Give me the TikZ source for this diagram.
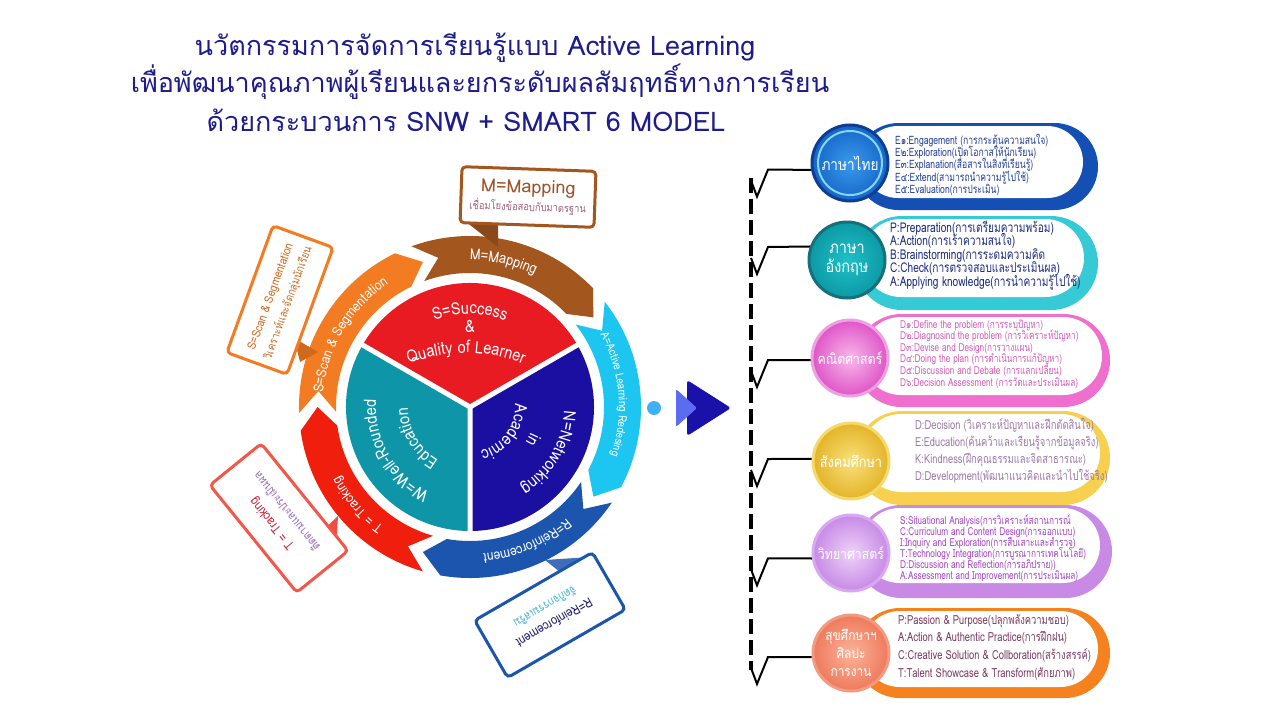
\documentclass[tikz,border=0pt]{standalone}
\usepackage{fontspec}
\setmainfont[Script=Thai,FakeStretch=0.85]{Loma}
\newfontfamily\tfont[Script=Thai]{Loma}
\newfontfamily\pfont[Script=Thai,FakeStretch=0.75]{Loma}
\usetikzlibrary{decorations.text}
\definecolor{titleblue}{HTML}{1E1B8C}
\definecolor{mbrown}{HTML}{A4561F}
\definecolor{acyan}{HTML}{1DC6F0}
\definecolor{rblue}{HTML}{1C55AE}
\definecolor{tred}{HTML}{F01E0C}
\definecolor{sorange}{HTML}{F37B22}
\definecolor{secred}{HTML}{E81A22}
\definecolor{secteal}{HTML}{0E96A8}
\definecolor{secblue}{HTML}{1A0FA0}
\definecolor{mtxt}{HTML}{9A5428}
\definecolor{mthai}{HTML}{A0607A}
\definecolor{stxt}{HTML}{D2691E}
\definecolor{ttxt}{HTML}{C8243A}
\definecolor{tthai}{HTML}{9A6AB8}
\definecolor{rtxt}{HTML}{1A1A6A}
\definecolor{rthai}{HTML}{3FB2D2}
\definecolor{pa}{HTML}{1450B4}
\definecolor{pb}{HTML}{36C9D6}
\definecolor{pc}{HTML}{EF6FCF}
\definecolor{pd}{HTML}{F6D04E}
\definecolor{pe}{HTML}{C98AE6}
\definecolor{pf}{HTML}{F5821F}
\definecolor{ta}{HTML}{23409A}
\definecolor{tb}{HTML}{1B2A80}
\definecolor{tc}{HTML}{D35DB8}
\definecolor{td}{HTML}{9C7AA8}
\definecolor{te}{HTML}{A545C5}
\definecolor{tf}{HTML}{7A3A60}
\definecolor{dotblue}{HTML}{3FB0F5}
\definecolor{darktri}{HTML}{1A12A8}
\definecolor{lighttri}{HTML}{5B6CF0}
\definecolor{aRim}{HTML}{0D3E96}
\definecolor{aIn}{HTML}{3A9BEC}
\definecolor{aOut}{HTML}{1565C8}
\definecolor{aHi}{HTML}{86D6F7}
\definecolor{bRim}{HTML}{14707A}
\definecolor{bIn}{HTML}{1FC0C8}
\definecolor{bOut}{HTML}{0C9AA5}
\definecolor{cRim}{HTML}{EFA0E0}
\definecolor{cIn}{HTML}{F8B8EA}
\definecolor{cOut}{HTML}{DF55C8}
\definecolor{dRim}{HTML}{F5D96B}
\definecolor{dIn}{HTML}{F9E07A}
\definecolor{dOut}{HTML}{E3B429}
\definecolor{eRim}{HTML}{D9A8F0}
\definecolor{eIn}{HTML}{EED2F8}
\definecolor{eOut}{HTML}{C78AE6}
\definecolor{fRim}{HTML}{F49A80}
\definecolor{fIn}{HTML}{FBB39A}
\definecolor{fOut}{HTML}{EE7A5C}
\newcommand\WBand[3]{\fill[#1] (#2:171) arc[start angle=#2,end angle=#3,radius=171] -- ({#3-8}:152.5) -- (#3:134) arc[start angle=#3,end angle=#2,radius=134] -- ({#2-8}:152.5) -- cycle;}
\newcommand\WArcText[7]{\path[decorate,decoration={text along path,text align=center,text color=#1,text={|#2|#7}}] ([shift={(#3)}]#5:#4) arc[start angle=#5,end angle=#6,radius=#4];}
\newcommand\Panel[6]{%
  \pgfmathsetmacro\ra{(#4-#2)/2}%
  \pgfmathsetmacro\rb{(#3-#2-3)/2}%
  \fill[#1,rounded corners=\ra pt] (855,#2) rectangle (#6,#4);
  \fill[white,rounded corners=\rb pt] (862,#2+3) rectangle (#5,#3);}
\newcommand\PLines[6]{\foreach \tx [count=\ii] in {#6} {\node[ptext,#5,anchor=base west] (#1\ii) at (#2,{#3+(\ii-1)*#4}) {\tx};}}
\begin{document}
\begin{tikzpicture}[x=1pt,y=-1pt,
  cbox/.style={rectangle,rounded corners=4,fill=white,line width=3,inner sep=0},
  ptext/.style={inner sep=0},
  pcirc/.style={circle,minimum size=76,inner sep=0,line width=3,text=white,align=center},
  conn/.style={line width=2,black},
  ttl/.style={text=titleblue,font=\tfont\fontsize{27}{30}\selectfont,anchor=base,inner sep=0}]
\useasboundingbox (0,0) rectangle (1280,720);
\fill[white] (0,0) rectangle (1280,720);
% title
\node[ttl] (t1) at (475,55) {นวัตกรรมการจัดการเรียนรู้แบบ Active Learning};
\node[ttl] (t2) at (480,92) {เพื่อพัฒนาคุณภาพผู้เรียนและยกระดับผลสัมฤทธิ์ทางการเรียน};
\node[ttl] (t3) at (466,131) {ด้วยกระบวนการ SNW + SMART 6 MODEL};
% wheel
\begin{scope}[shift={(470,407)},y=1pt]
  \fill[secred] (0,0) -- (30:124) arc[start angle=30,end angle=150,radius=124] -- cycle;
  \fill[secteal] (0,0) -- (150:124) arc[start angle=150,end angle=270,radius=124] -- cycle;
  \fill[secblue] (0,0) -- (270:124) arc[start angle=270,end angle=390,radius=124] -- cycle;
  \draw[white,line width=5] (0,0) -- (30:126) (0,0) -- (150:126) (0,0) -- (270:126);
  \WBand{mbrown}{110}{44}
  \WBand{acyan}{38}{-28}
  \WBand{rblue}{-34}{-100}
  \WBand{tred}{-106}{-172}
  \WBand{sorange}{182}{116}
  \WArcText{white}{\fontsize{15}{15}\selectfont}{0,0}{147}{127}{27}{M=Mapping}
  \WArcText{white}{\fontsize{11.5}{12}\selectfont}{0,0}{149}{55}{-45}{A=Active Learning Redesing}
  \WArcText{white}{\fontsize{14}{14}\selectfont}{0,0}{147.5}{-17}{-117}{R=Reinforcement}
  \WArcText{white}{\fontsize{14}{14}\selectfont}{0,0}{147.5}{-89}{-189}{T = Tracking}
  \WArcText{white}{\fontsize{14}{14}\selectfont}{0,0}{147.5}{199}{99}{S=Scan {\&} Segmentation}
  \WArcText{white}{\fontsize{17}{17}\selectfont}{0,0}{93}{140}{40}{S=Success}
  \node[text=white,font=\fontsize{17}{17}\selectfont,inner sep=0] (amp) at (0,81) {\&};
  \WArcText{white}{\fontsize{17}{17}\selectfont}{-4,-100}{154}{120}{60}{Quality of Learner}
  \WArcText{white}{\fontsize{17}{17}\selectfont}{0,0}{94}{260}{160}{W=Well-Rounded}
  \WArcText{white}{\fontsize{17}{17}\selectfont}{0,0}{62}{260}{160}{Education}
  \WArcText{white}{\fontsize{17}{17}\selectfont}{0,0}{94}{20}{-80}{N=Networking}
  \WArcText{white}{\fontsize{17}{17}\selectfont}{0,0}{66}{22}{-78}{in}
  \WArcText{white}{\fontsize{17}{17}\selectfont}{0,0}{45}{14}{-86}{Academic}
\end{scope}
% callouts
\fill[mbrown!85!black] (465,221) -- (498,224) -- (498,247) -- cycle;
\node[cbox,draw=mbrown,rotate=-2,minimum width=134,minimum height=56] (mbox) at (528,197) {};
\node[rotate=-2,align=center,inner sep=0] (mtext) at (mbox.center) {{\color{mtxt}\tfont\fontsize{18}{20}\selectfont M=Mapping}\\[2pt]{\color{mthai}\fontsize{11}{13}\selectfont เชื่อมโยงข้อสอบกับมาตรฐาน}};
\fill[sorange!85!black] (294,338) -- (300,362) -- (318,352) -- cycle;
\node[cbox,draw=sorange,rotate=70,minimum width=135,minimum height=64] (sbox) at (280,300) {};
\node[rotate=70,align=center,inner sep=0] (stext) at (sbox.center) {{\color{stxt}\fontsize{12}{14}\selectfont S=Scan \& Segmentation}\\[5pt]{\color{stxt}\fontsize{11.5}{13}\selectfont วิเคราะห์และจัดกลุ่มนักเรียน}};
\fill[tred!80!white] (318,535) -- (338,516) -- (336,548) -- cycle;
\node[cbox,draw=tred!75!white,rotate=129,minimum width=138,minimum height=66] (tbox) at (279,518) {};
\node[rotate=129,align=center,inner sep=0] (ttext) at (tbox.center) {{\color{ttxt}\fontsize{13}{15}\selectfont T = Tracking}\\[6pt]{\color{tthai}\fontsize{12}{14}\selectfont ติดตามและประเมินผล}};
\fill[rblue!85!white] (545,560) -- (590,557) -- (570,580) -- cycle;
\node[cbox,draw=rblue,rotate=-150,minimum width=136,minimum height=66] (rbox) at (550,615) {};
\node[rotate=-150,align=center,inner sep=0] (rtext) at (rbox.center) {{\color{rtxt}\fontsize{13}{15}\selectfont R=Reinforcement}\\[6pt]{\color{rthai}\fontsize{12}{14}\selectfont จัดกิจกรรมเสริม}};
% arrow icon
\fill[dotblue] (654,408) circle (7);
\fill[darktri,rounded corners=3] (687,380) -- (731,408) -- (687,436) -- cycle;
\fill[lighttri,rounded corners=2] (676,389) -- (697,408) -- (676,427) -- cycle;
% panels
\Panel{pa}{123}{198}{210}{1083}{1098}
\Panel{pb}{216}{297}{310}{1084}{1098}
\Panel{pc}{314}{395}{407}{1102}{1110}
\Panel{pd}{411}{492}{505}{1100}{1110}
\Panel{pe}{505}{583}{598}{1100}{1112}
\Panel{pf}{608}{687}{698}{1098}{1110}
\PLines{la}{895}{144}{12.4}{text=ta,font=\pfont\fontsize{11.5}{12}\selectfont}{{E๑:Engagement (การกระตุ้นความสนใจ)},{E๒:Exploration(เปิดโอกาสให้นักเรียน)},{E๓:Explanation(สื่อสารในสิ่งที่เรียนรู้)},{E๔:Extend(สามารถนำความรู้ไปใช้)},{E๕:Evaluation(การประเมิน)}}
\PLines{lb}{890}{232}{13.6}{text=tb,font=\pfont\fontsize{13.5}{14}\selectfont}{{P:Preparation(การเตรียมความพร้อม)},{A:Action(การเร้าความสนใจ)},{B:Brainstorming(การระดมความคิด},{C:Check(การตรวจสอบและประเมินผล)},{A:Applying knowledge(การนำความรู้ไปใช้)}}
\PLines{lc}{900}{328}{11.6}{text=tc,font=\pfont\fontsize{11}{11}\selectfont}{{D๑:Define the problem (การระบุปัญหา)},{D๒:Diagnosind the problem (การวิเคราะห์ปัญหา)},{D๓:Devise and Design(การวางแผน)},{D๔:Doing the plan (การดำเนินการแก้ปัญหา)},{D๕:Discussion and Debate (การแลกเปลี่ยน)},{D๖:Decision Assessment (การวัดและประเมินผล)}}
\PLines{ld}{915}{429}{17.3}{text=td,font=\pfont\fontsize{12.5}{13}\selectfont}{{D:Decision (วิเคราะห์ปัญหาและฝึกตัดสินใจ)},{E:Education(ค้นคว้าและเรียนรู้จากข้อมูลจริง)},{K:Kindness(ฝึกคุณธรรมและจิตสาธารณะ)},{D:Development(พัฒนาแนวคิดและนำไปใช้จริง)}}
\PLines{le}{900}{524}{11}{text=te,font=\pfont\fontsize{11}{11}\selectfont}{{S:Situational Analysis(การวิเคราะห์สถานการณ์},{C:Curriculum and Content Design(การออกแบบ)},{I:Inquiry and Exploration(การสืบเสาะและสำรวจ)},{T:Technology Integration(การบูรณาการเทคโนโลยี)},{D:Discussion and Reflection(การอภิปราย))},{A:Assessment and Improvement(การประเมินผล)}}
\PLines{lf}{898}{624}{17.7}{text=tf,font=\pfont\fontsize{12.5}{13}\selectfont}{{P:Passion \& Purpose(ปลุกพลังความชอบ)},{A:Action \& Authentic Practice(การฝึกฝน)},{C:Creative Solution \& Collboration(สร้างสรรค์)},{T:Talent Showcase \& Transform(ศักยภาพ)}}
% circles
\node[pcirc,draw=aRim,inner color=aIn,outer color=aOut,font=\fontsize{16}{18}\selectfont] (c1) at (850,163) {ภาษาไทย};
\draw[aHi,line width=2] (c1.center) circle (32);
\node[pcirc,draw=bRim,inner color=bIn,outer color=bOut,font=\fontsize{17}{19}\selectfont] (c2) at (847,260) {ภาษา\\อังกฤษ};
\node[pcirc,draw=cRim,inner color=cIn,outer color=cOut,font=\fontsize{14.5}{17}\selectfont] (c3) at (850,358) {คณิตศาสตร์};
\node[pcirc,draw=dRim,inner color=dIn,outer color=dOut,font=\fontsize{15}{17}\selectfont] (c4) at (851,461) {สังคมศึกษา};
\node[pcirc,draw=eRim,inner color=eIn,outer color=eOut,font=\fontsize{14.5}{17}\selectfont] (c5) at (851,553) {วิทยาศาสตร์};
\node[pcirc,draw=fRim,inner color=fIn,outer color=fOut,font=\fontsize{14}{18}\selectfont] (c6) at (851,653) {สุขศึกษาฯ\\ศิลปะ\\การงาน};
% bracket
\coordinate (bt) at (751,178);
\coordinate (bb) at (751,670);
\draw[line width=4,dash pattern=on 15 off 6] (bt) -- (bb);
\coordinate (k1) at (751,180.6);
\coordinate (k2) at (751,258);
\coordinate (k3) at (751,371);
\coordinate (k4) at (751,470);
\coordinate (k5) at (751,569.3);
\coordinate (k6) at (751,668);
\draw[conn] (k1) -- ++(6,16) -- ++(11,-27) -- (c1.190);
\draw[conn] (k2) -- ++(6,16) -- ++(11,-27) -- (c2.160);
\draw[conn] (k3) -- ++(6,16) -- ++(11,-27) -- (c3.183);
\draw[conn] (k4) -- ++(6,16) -- ++(11,-27) -- (c4.177);
\draw[conn] (k5) -- ++(6,16) -- ++(11,-27) -- (c5.188);
\draw[conn] (k6) -- ++(6,16) -- ++(11,-27) -- (c6.186);
\end{tikzpicture}
\end{document}
